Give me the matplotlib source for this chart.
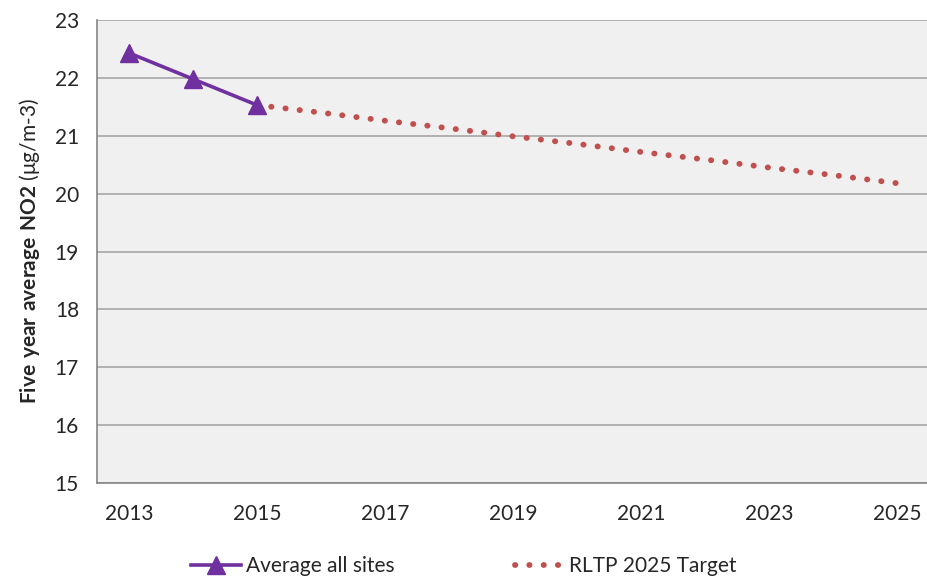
import matplotlib
matplotlib.use("Agg")
import matplotlib.pyplot as plt

plt.rcParams['font.family'] = ['Lato', 'DejaVu Sans']
plt.rcParams['mathtext.fontset'] = 'custom'
plt.rcParams['mathtext.rm'] = 'Lato'
plt.rcParams['mathtext.bf'] = 'Lato:bold'

years = list(range(2013, 2026))
avg_years = [2013, 2014, 2015]
avg_values = [22.43, 21.98, 21.53]
target_years = list(range(2015, 2026))
target_values = [21.53, 21.40, 21.26, 21.13, 20.99, 20.86, 20.72, 20.59, 20.45, 20.32, 20.18]
y_ticks = [15, 16, 17, 18, 19, 20, 21, 22, 23]
x_ticks = [2013, 2015, 2017, 2019, 2021, 2023, 2025]

fig = plt.figure(figsize=(9.28, 5.78), dpi=100)
ax = fig.add_axes([97 / 928, 1 - 483 / 578, 832 / 928, 463 / 578])
ax.set_facecolor('#F0F0F0')

ax.plot(target_years, target_values, color='#C0504D', lw=4.2,
        linestyle=(0, (0.05, 2.4)), dash_capstyle='round',
        label='RLTP 2025 Target', zorder=3)
ax.plot(avg_years, avg_values, color='#7030A0', lw=2.6, marker='^',
        markersize=12.5, label='Average all sites', zorder=4)

ax.set_xlim(2012.5, 2025.5)
ax.set_ylim(15, 23)
ax.set_yticks(y_ticks)
ax.set_xticks(x_ticks)
ax.yaxis.grid(True, color='#A6A6A6', lw=1.2)
ax.set_axisbelow(True)
for s in ['top', 'right']:
    ax.spines[s].set_visible(False)
for s in ['left', 'bottom']:
    ax.spines[s].set_color('#868686')
    ax.spines[s].set_linewidth(1.2)
ax.tick_params(axis='both', length=0, labelsize=15, colors='#262626')
ax.tick_params(axis='y', pad=13)
ax.tick_params(axis='x', pad=15)

ax.set_ylabel(r"$\mathbf{Five\ year\ average\ NO2}$ (μg/m-3)", fontsize=15,
              color='#262626', labelpad=9)

handles, labels = ax.get_legend_handles_labels()
fig.legend(handles[::-1], labels[::-1], loc='center', bbox_to_anchor=(0.5, 1 - 566 / 578),
           ncol=2, frameon=False, fontsize=15, handlelength=2.4, handletextpad=0.2,
           columnspacing=5.8, labelcolor='#262626')

fig.savefig('out.png', dpi=100)
